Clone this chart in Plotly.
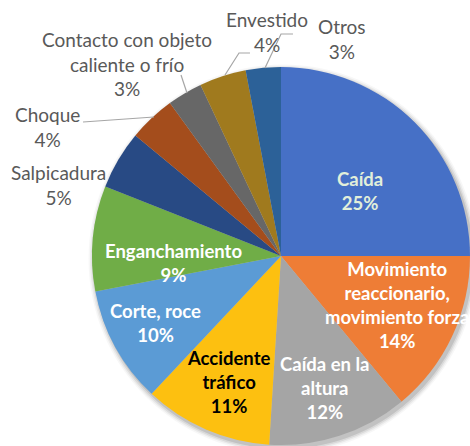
import plotly.graph_objects as go

# Accident types and their share of the total (percent)
categories = [
    "Caída",
    "Movimiento reaccionario, movimiento forza",
    "Caída en la altura",
    "Accidente tráfico",
    "Corte, roce",
    "Enganchamiento",
    "Salpicadura",
    "Choque",
    "Contacto con objeto caliente o frío",
    "Envestido",
    "Otros",
]
values = [25, 14, 12, 11, 10, 9, 5, 4, 3, 4, 3]

# Wrapped label lines for each slice
label_lines = [
    ["Caída"],
    ["Movimiento", "reaccionario,", "movimiento forza"],
    ["Caída en la", "altura"],
    ["Accidente", "tráfico"],
    ["Corte, roce"],
    ["Enganchamiento"],
    ["Salpicadura"],
    ["Choque"],
    ["Contacto con objeto", "caliente o frío"],
    ["Envestido"],
    ["Otros"],
]

colors = ["#4670C6", "#EE7D36", "#A5A5A5", "#FDC010", "#5B9BD5", "#70AD47",
          "#284A84", "#A44D1C", "#676767", "#A07A1E", "#2C6198"]

W, H = 470, 446
CX, CY, R = 281, 256, 189


def px(x):
    return x / W


def py(y):
    return 1 - y / H


fig = go.Figure()

fig.add_trace(go.Pie(
    labels=categories,
    values=values,
    sort=False,
    direction="clockwise",
    rotation=0,
    marker=dict(colors=colors, line=dict(width=0)),
    textinfo="none",
    hoverinfo="label+percent",
    showlegend=False,
    domain=dict(x=[px(CX - R), px(CX + R)], y=[py(CY + R), py(CY - R)]),
))

# soft outer shadow toward the lower right
shapes = []
for i, op in enumerate([0.10, 0.07, 0.05, 0.03]):
    rr = R + 1 + i * 1.5
    ox, oy = CX + 2, CY + 3
    shapes.append(dict(type="circle", xref="paper", yref="paper", layer="below",
                       x0=px(ox - rr), x1=px(ox + rr), y0=py(oy + rr), y1=py(oy - rr),
                       fillcolor=f"rgba(0,0,0,{op})", line=dict(width=0)))

# leader lines for the small outside labels
leaders = [
    [(83, 122), (154, 117)],
    [(181, 75), (187, 93)],
    [(250, 53), (239, 53), (225, 75)],
    [(293, 34), (281, 34), (265, 68)],
]
for pts in leaders:
    path = "M " + " L ".join(f"{px(x):.5f},{py(y):.5f}" for x, y in pts)
    shapes.append(dict(type="path", xref="paper", yref="paper", path=path,
                       line=dict(color="#A6A6A6", width=1.2)))

# label block centres (pixels) and styles
label_pos = [
    (360, 191), (397, 305), (325, 388), (228, 382), (155, 323), (173, 263),
    (58, 185), (47, 127), (127, 64), (267, 32), (342, 39),
]
inside = [True, True, True, True, True, True, False, False, False, False, False]
text_colors = ["#E2EFDA", "white", "white", "black", "white", "white",
               "#595959", "#595959", "#595959", "#595959", "#595959"]

total = sum(values)
annotations = []
for lines, v, (x, y), ins, col in zip(label_lines, values, label_pos, inside, text_colors):
    pct = f"{round(100 * v / total)}%"
    txt = "<br>".join(lines + [pct])
    if ins:
        txt = "<b>" + txt + "</b>"
    annotations.append(dict(
        x=px(x), y=py(y), xref="paper", yref="paper",
        text=txt, showarrow=False, xanchor="center", yanchor="middle", align="center",
        font=dict(family="Lato", size=18.5 if ins else 19, color=col),
    ))

fig.update_layout(
    width=W, height=H,
    margin=dict(l=0, r=0, t=0, b=0),
    paper_bgcolor="white",
    plot_bgcolor="white",
    shapes=shapes,
    annotations=annotations,
)

fig.write_html("out.html")
